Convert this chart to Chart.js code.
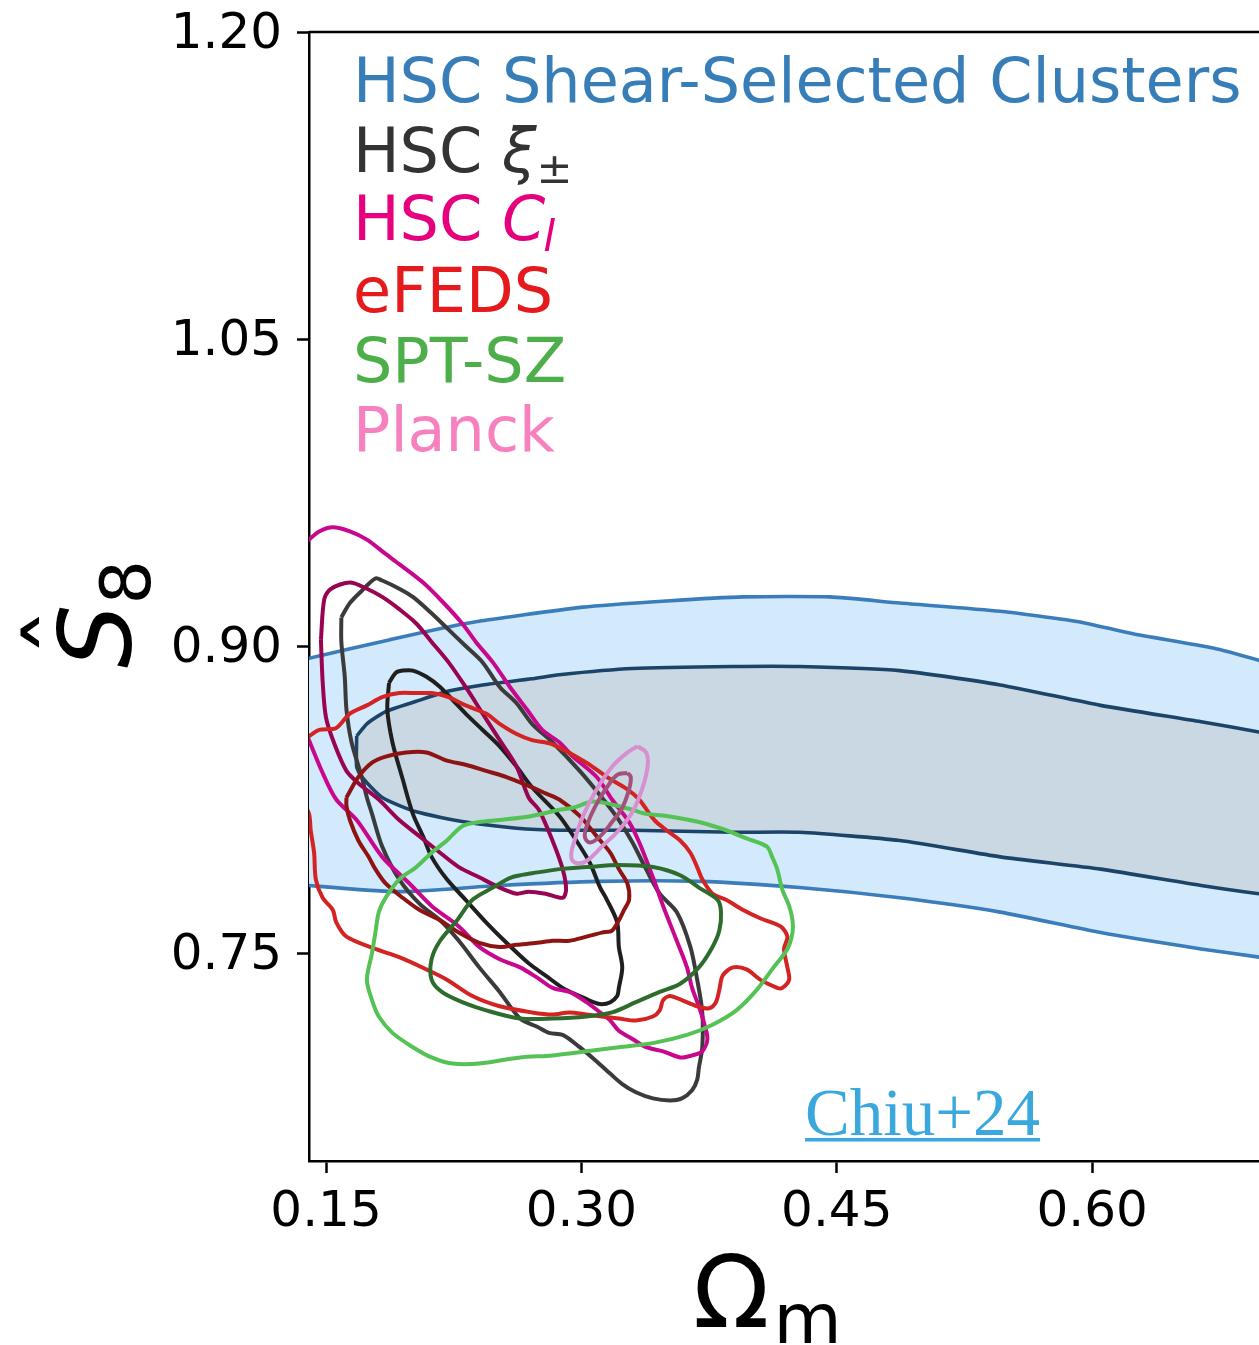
<!DOCTYPE html>
<html>
<head>
<meta charset="utf-8">
<script src="https://cdn.jsdelivr.net/npm/chart.js@4.4.1/dist/chart.umd.min.js"></script>
<style>
  html, body { margin: 0; padding: 0; background: #fff; overflow: hidden; }
  canvas { display: block; }
</style>
</head>
<body>
<canvas id="chart" width="1259" height="1345"></canvas>
<script>
// Axis ticks
const xTicks = [0.15, 0.30, 0.45, 0.60];
const yTicks = [0.75, 0.90, 1.05, 1.20];

// Legend entries
const legendLabels = ['HSC Shear-Selected Clusters', 'HSC ξ±', 'HSC Cl', 'eFEDS', 'SPT-SZ', 'Planck'];

// HSC shear-selected clusters: 95% and 68% regions (Omega_m, S8)
const clustersOuter = [
  [0.134,0.893],[0.140,0.894],[0.187,0.903],[0.232,0.911],[0.301,0.919],[0.350,0.922],[0.395,0.924],[0.446,0.924],
  [0.487,0.921],[0.546,0.917],[0.591,0.912],[0.624,0.906],[0.671,0.899],[0.698,0.893],[0.722,0.887],
  [0.722,0.745],[0.698,0.748],[0.664,0.752],[0.605,0.760],[0.546,0.770],[0.487,0.777],[0.428,0.782],[0.369,0.785],
  [0.311,0.785],[0.252,0.783],[0.193,0.780],[0.140,0.783],[0.134,0.784]
];
const clustersInner = [
  [0.168,0.856],[0.174,0.862],[0.185,0.868],[0.203,0.873],[0.222,0.878],[0.242,0.881],[0.271,0.884],[0.287,0.886],
  [0.330,0.889],[0.389,0.890],[0.428,0.890],[0.487,0.888],[0.546,0.881],[0.605,0.871],[0.664,0.863],[0.698,0.858],[0.722,0.854],
  [0.722,0.777],[0.698,0.779],[0.664,0.783],[0.605,0.791],[0.546,0.797],[0.487,0.805],[0.428,0.809],[0.389,0.809],
  [0.330,0.810],[0.287,0.810],[0.262,0.811],[0.232,0.814],[0.203,0.819],[0.183,0.826],[0.171,0.836],[0.168,0.841]
];

// HSC cosmic shear xi_+-
const xiOuter = [
  [0.159,0.914],[0.164,0.921],[0.171,0.927],[0.179,0.933],[0.183,0.932],[0.193,0.928],[0.201,0.924],[0.212,0.916],
  [0.222,0.908],[0.232,0.900],[0.242,0.892],[0.252,0.880],[0.262,0.872],[0.271,0.862],[0.283,0.853],[0.299,0.839],
  [0.312,0.826],[0.322,0.815],[0.330,0.804],[0.338,0.791],[0.346,0.779],[0.356,0.770],[0.364,0.753],[0.368,0.737],
  [0.371,0.721],[0.371,0.704],[0.369,0.694],[0.368,0.688],[0.365,0.683],[0.359,0.679],[0.352,0.678],[0.342,0.679],
  [0.332,0.682],[0.324,0.686],[0.317,0.691],[0.309,0.697],[0.299,0.704],[0.289,0.710],[0.281,0.711],[0.274,0.714],
  [0.264,0.718],[0.252,0.731],[0.240,0.743],[0.228,0.756],[0.217,0.766],[0.205,0.774],[0.193,0.786],[0.183,0.802],
  [0.177,0.818],[0.174,0.826],[0.171,0.836],[0.165,0.853],[0.162,0.869],[0.161,0.885],[0.159,0.902]
];
const xiInner = [
  [0.187,0.882],[0.191,0.887],[0.195,0.888],[0.201,0.888],[0.209,0.885],[0.217,0.880],[0.224,0.874],[0.232,0.867],
  [0.242,0.859],[0.252,0.851],[0.262,0.841],[0.271,0.831],[0.287,0.817],[0.297,0.805],[0.305,0.794],[0.311,0.782],
  [0.315,0.776],[0.321,0.765],[0.322,0.753],[0.324,0.743],[0.322,0.733],[0.321,0.729],[0.317,0.726],[0.312,0.725],
  [0.307,0.726],[0.299,0.729],[0.289,0.733],[0.279,0.739],[0.269,0.745],[0.256,0.755],[0.244,0.765],[0.232,0.776],
  [0.221,0.786],[0.212,0.797],[0.207,0.807],[0.201,0.818],[0.195,0.835],[0.189,0.853],[0.186,0.869]
];

// HSC harmonic-space C_l
const clOuter = [
  [0.134,0.948],[0.140,0.952],[0.146,0.956],[0.154,0.958],[0.164,0.956],[0.174,0.952],[0.185,0.945],[0.193,0.940],
  [0.207,0.931],[0.218,0.922],[0.230,0.911],[0.238,0.902],[0.248,0.892],[0.258,0.880],[0.268,0.869],[0.277,0.859],
  [0.287,0.853],[0.295,0.846],[0.309,0.836],[0.318,0.825],[0.328,0.814],[0.334,0.804],[0.342,0.787],[0.348,0.773],
  [0.356,0.756],[0.362,0.743],[0.365,0.733],[0.369,0.724],[0.372,0.716],[0.374,0.708],[0.371,0.702],[0.365,0.700],
  [0.358,0.699],[0.348,0.702],[0.338,0.704],[0.330,0.708],[0.322,0.712],[0.317,0.717],[0.311,0.721],[0.303,0.726],
  [0.293,0.731],[0.283,0.733],[0.274,0.738],[0.264,0.743],[0.252,0.747],[0.240,0.753],[0.228,0.763],[0.212,0.773],
  [0.199,0.784],[0.183,0.797],[0.168,0.815],[0.156,0.825],[0.148,0.838],[0.140,0.854],[0.134,0.866]
];
const clInner = [
  [0.147,0.903],[0.149,0.923],[0.153,0.928],[0.164,0.931],[0.174,0.928],[0.183,0.924],[0.193,0.918],[0.203,0.911],
  [0.212,0.902],[0.222,0.892],[0.232,0.880],[0.242,0.867],[0.252,0.854],[0.262,0.841],[0.269,0.826],[0.275,0.820],
  [0.283,0.805],[0.289,0.791],[0.291,0.781],[0.289,0.777],[0.279,0.779],[0.269,0.780],[0.262,0.779],[0.252,0.782],
  [0.240,0.787],[0.228,0.792],[0.217,0.799],[0.205,0.807],[0.193,0.815],[0.181,0.825],[0.169,0.833],[0.162,0.839],
  [0.155,0.852],[0.150,0.865],[0.148,0.883]
];

// eFEDS clusters
const efedsOuter = [
  [0.134,0.854],[0.140,0.856],[0.146,0.859],[0.156,0.860],[0.164,0.867],[0.174,0.871],[0.183,0.875],[0.193,0.877],
  [0.203,0.877],[0.212,0.877],[0.222,0.875],[0.232,0.871],[0.244,0.867],[0.252,0.862],[0.262,0.857],[0.271,0.854],
  [0.283,0.852],[0.303,0.843],[0.315,0.836],[0.327,0.830],[0.334,0.825],[0.340,0.818],[0.344,0.814],[0.350,0.810],
  [0.358,0.805],[0.364,0.799],[0.368,0.792],[0.371,0.786],[0.377,0.779],[0.385,0.776],[0.395,0.771],[0.405,0.767],
  [0.417,0.763],[0.421,0.758],[0.419,0.752],[0.421,0.743],[0.422,0.737],[0.418,0.733],[0.415,0.733],[0.405,0.737],
  [0.397,0.742],[0.389,0.743],[0.383,0.739],[0.381,0.732],[0.379,0.726],[0.375,0.723],[0.368,0.724],[0.359,0.727],
  [0.352,0.729],[0.348,0.727],[0.346,0.722],[0.342,0.719],[0.332,0.717],[0.322,0.718],[0.312,0.719],[0.303,0.720],
  [0.293,0.721],[0.283,0.720],[0.271,0.721],[0.252,0.724],[0.236,0.729],[0.221,0.737],[0.209,0.742],[0.193,0.748],
  [0.179,0.752],[0.162,0.758],[0.156,0.765],[0.154,0.771],[0.148,0.777],[0.144,0.786],[0.143,0.799],[0.141,0.810],
  [0.140,0.818],[0.134,0.830]
];
const efedsInner = [
  [0.162,0.826],[0.169,0.836],[0.177,0.843],[0.185,0.846],[0.197,0.848],[0.209,0.848],[0.221,0.844],[0.232,0.842],
  [0.244,0.839],[0.256,0.836],[0.268,0.832],[0.279,0.828],[0.287,0.825],[0.299,0.817],[0.309,0.807],[0.317,0.799],
  [0.322,0.791],[0.327,0.784],[0.328,0.776],[0.325,0.771],[0.322,0.766],[0.318,0.761],[0.312,0.760],[0.303,0.758],
  [0.293,0.756],[0.283,0.756],[0.274,0.755],[0.262,0.754],[0.252,0.753],[0.240,0.755],[0.228,0.760],[0.217,0.766],
  [0.205,0.771],[0.195,0.777],[0.185,0.784],[0.179,0.791],[0.175,0.797],[0.169,0.805],[0.164,0.815],[0.162,0.822]
];

// SPT-SZ clusters
const sptOuter = [
  [0.287,0.820],[0.295,0.821],[0.307,0.824],[0.321,0.822],[0.330,0.820],[0.338,0.818],[0.350,0.817],[0.369,0.814],
  [0.385,0.810],[0.397,0.806],[0.409,0.802],[0.412,0.797],[0.415,0.791],[0.418,0.781],[0.422,0.773],[0.424,0.766],
  [0.424,0.760],[0.421,0.752],[0.412,0.742],[0.403,0.732],[0.391,0.722],[0.377,0.715],[0.362,0.710],[0.342,0.706],
  [0.322,0.704],[0.303,0.702],[0.283,0.700],[0.264,0.699],[0.240,0.696],[0.224,0.696],[0.212,0.699],[0.201,0.704],
  [0.189,0.711],[0.181,0.719],[0.177,0.727],[0.174,0.737],[0.177,0.750],[0.179,0.760],[0.181,0.770],[0.185,0.777],
  [0.193,0.786],[0.203,0.792],[0.212,0.799],[0.221,0.805],[0.230,0.812],[0.240,0.814],[0.252,0.815],[0.271,0.817]
];
const sptInner = [
  [0.287,0.791],[0.303,0.792],[0.322,0.793],[0.342,0.792],[0.358,0.788],[0.369,0.782],[0.380,0.776],[0.382,0.770],
  [0.381,0.761],[0.377,0.753],[0.369,0.743],[0.358,0.735],[0.346,0.731],[0.332,0.726],[0.318,0.721],[0.303,0.719],
  [0.283,0.718],[0.264,0.718],[0.244,0.722],[0.230,0.726],[0.218,0.731],[0.212,0.737],[0.212,0.747],[0.217,0.756],
  [0.227,0.766],[0.236,0.776],[0.248,0.782],[0.259,0.787],[0.271,0.789]
];

// Planck CMB
const planckOuter = [
  [0.333,0.851],[0.338,0.848],[0.339,0.842],[0.336,0.831],[0.330,0.819],[0.322,0.810],[0.312,0.802],[0.303,0.795],
  [0.297,0.794],[0.294,0.797],[0.296,0.805],[0.301,0.817],[0.309,0.830],[0.318,0.841],[0.327,0.848]
];
const planckInner = [
  [0.327,0.838],[0.329,0.836],[0.328,0.830],[0.324,0.821],[0.318,0.814],[0.311,0.807],[0.305,0.804],[0.302,0.807],
  [0.304,0.814],[0.309,0.823],[0.315,0.831],[0.321,0.837]
];

// closed polygon from a list of [x, y] pairs
function ring(arr) {
  const p = arr.map(([x, y]) => ({ x, y }));
  p.push({ x: arr[0][0], y: arr[0][1] });
  return p;
}

function contour(label, arr, color, width, order, fillColor, tension) {
  return {
    label,
    data: ring(arr),
    borderColor: color,
    borderWidth: width,
    backgroundColor: fillColor || 'rgba(0,0,0,0)',
    fill: fillColor ? 'shape' : false,
    pointRadius: 0,
    pointHoverRadius: 0,
    tension: tension,
    order,
    clip: 0
  };
}

const datasets = [
  contour('clusters95', clustersOuter, '#3a7dba', 3.6, 20, '#d3e9fc', 0.2),
  contour('clusters68', clustersInner, '#1b4468', 3.6, 19, '#c9d8e3', 0.2),
  contour('xi95', xiOuter, '#3b3b3b', 4, 18, null, 0.3),
  contour('xi68', xiInner, '#1f1f1f', 4, 17, null, 0.3),
  contour('cl95', clOuter, '#c8078e', 4, 16, null, 0.3),
  contour('cl68', clInner, '#980452', 4, 15, null, 0.3),
  contour('efeds95', efedsOuter, '#d42323', 4, 14, null, 0.3),
  contour('efeds68', efedsInner, '#8e1414', 4, 13, null, 0.3),
  contour('spt95', sptOuter, '#55c255', 4, 12, null, 0.3),
  contour('spt68', sptInner, '#2e6c2e', 4, 11, null, 0.3),
  contour('planck95', planckOuter, '#d78fd0', 4, 10, null, 0.4),
  contour('planck68', planckInner, '#a4507b', 4, 9, null, 0.4)
];

const legendColors = ['#377eb8', '#333333', '#e6007e', '#e41a1c', '#4daf4a', '#f781bf'];
const SANS = '"DejaVu Sans"';

function drawRuns(ctx, x, y, runs, color) {
  let cx = x;
  ctx.fillStyle = color;
  for (const r of runs) {
    ctx.font = r.font;
    ctx.fillText(r.text, cx, y + (r.dy || 0));
    cx += ctx.measureText(r.text).width + (r.gap || 0);
  }
}

const decorations = {
  id: 'decorations',
  afterDraw(chart) {
    const ctx = chart.ctx;
    const a = chart.chartArea;
    ctx.save();
    // top frame line
    ctx.strokeStyle = '#000';
    ctx.lineWidth = 2.5;
    ctx.beginPath();
    ctx.moveTo(a.left, a.top);
    ctx.lineTo(a.right, a.top);
    ctx.stroke();

    // legend text
    ctx.textBaseline = 'alphabetic';
    ctx.textAlign = 'left';
    const lx = a.left + 44;
    const big = '62px ' + SANS;
    const small = '43px ' + SANS;
    const baselines = [70, 140, 208, 280, 350, 419];
    const runs = [
      [{ text: legendLabels[0], font: big }],
      [{ text: 'HSC ', font: big }, { text: 'ξ', font: 'italic ' + big, gap: 0 }, { text: '±', font: small, dy: 11 }],
      [{ text: 'HSC ', font: big }, { text: 'C', font: 'italic ' + big, gap: -2 }, { text: 'l', font: 'italic ' + small, dy: 11 }],
      [{ text: legendLabels[3], font: big }],
      [{ text: legendLabels[4], font: big }],
      [{ text: legendLabels[5], font: big }]
    ];
    runs.forEach((r, i) => drawRuns(ctx, lx, a.top + baselines[i], r, legendColors[i]));

    // citation tag
    ctx.font = '67px "Liberation Serif"';
    ctx.fillStyle = '#3aa8dc';
    const tag = 'Chiu+24';
    const tx = a.left + 496, ty = a.bottom - 26;
    ctx.fillText(tag, tx, ty);
    ctx.fillRect(tx, ty + 3, ctx.measureText(tag).width, 3.5);

    // x axis title: Omega_m
    drawRuns(ctx, a.left + 384, a.bottom + 166,
      [{ text: 'Ω', font: '100px ' + SANS, gap: 4 }, { text: 'm', font: '70px ' + SANS, dy: 16 }], '#000');

    // y axis title: S8 with hat, rotated
    ctx.save();
    ctx.translate(131, 668);
    ctx.rotate(-Math.PI / 2);
    ctx.fillStyle = '#000';
    ctx.font = 'italic 100px ' + SANS;
    ctx.fillText('S', 0, 0);
    const sw = ctx.measureText('S').width;
    ctx.font = '100px ' + SANS;
    const hw = ctx.measureText('ˆ').width;
    ctx.fillText('ˆ', sw / 2 - hw / 2 + 4, -30);
    ctx.font = '70px ' + SANS;
    ctx.fillText('8', sw, 19);
    ctx.restore();

    ctx.restore();
  }
};

new Chart(document.getElementById('chart'), {
  type: 'line',
  data: { datasets },
  options: {
    responsive: false,
    animation: false,
    events: [],
    layout: { padding: { top: 32, left: 0, right: 0, bottom: 0 } },
    plugins: { legend: { display: false }, tooltip: { enabled: false } },
    scales: {
      x: {
        type: 'linear',
        min: 0.1400,
        max: 0.6980,
        afterBuildTicks: (s) => { s.ticks = xTicks.map(v => ({ value: v })); },
        afterFit: (s) => { s.height = 184; s.paddingLeft = 0; s.paddingRight = 0; },
        ticks: {
          callback: (v) => Number(v).toFixed(2),
          font: { family: 'DejaVu Sans', size: 50 },
          color: '#000',
          padding: 10,
          maxRotation: 0,
          autoSkip: false
        },
        grid: { drawOnChartArea: false, tickLength: 12, tickWidth: 2.5, tickColor: '#000' },
        border: { display: true, color: '#000', width: 2.5 }
      },
      y: {
        type: 'linear',
        min: 0.6484,
        max: 1.20,
        afterBuildTicks: (s) => { s.ticks = yTicks.map(v => ({ value: v })); },
        afterFit: (s) => { s.width = 309; s.paddingTop = 0; s.paddingBottom = 0; },
        ticks: {
          callback: (v) => Number(v).toFixed(2),
          font: { family: 'DejaVu Sans', size: 50 },
          color: '#000',
          padding: 15,
          labelOffset: 3,
          autoSkip: false
        },
        grid: { drawOnChartArea: false, tickLength: 12, tickWidth: 2.5, tickColor: '#000' },
        border: { display: true, color: '#000', width: 2.5 }
      }
    }
  },
  plugins: [decorations]
});
</script>
</body>
</html>
